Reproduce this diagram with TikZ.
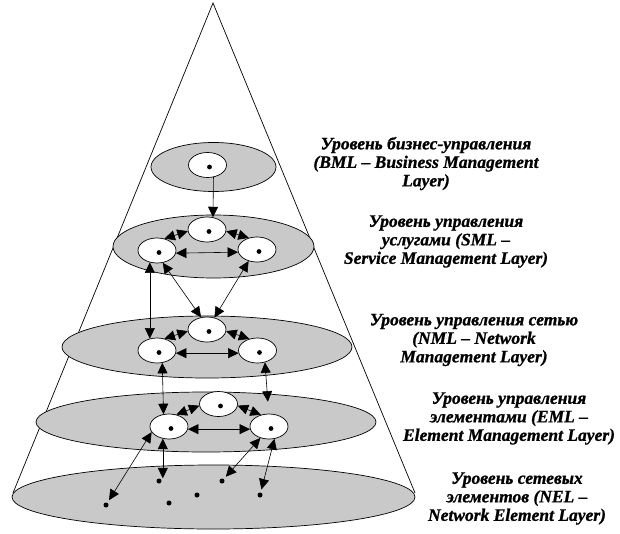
\documentclass[tikz,border=0pt]{standalone}
\usepackage{fontspec}
\setmainfont{Liberation Serif}[BoldItalicFeatures={FakeBold=1}]
\usetikzlibrary{shapes.geometric,arrows.meta}

\begin{document}
\begin{tikzpicture}[x=1pt,y=-1pt,
    layer/.style={ellipse, draw, fill=gray!42, line width=0.7pt, inner sep=0pt},
    elem/.style={ellipse, draw, fill=white, line width=0.7pt, inner sep=0pt,
        minimum width=38pt, minimum height=25pt,
        path picture={\fill[black] ([shift={(2pt,-2pt)}]path picture bounding box.center) circle (2.4pt);}},
    neldot/.style={circle, fill, inner sep=0pt, minimum size=5pt},
    dbl/.style={{Triangle[length=10.5pt,width=10pt]}-{Triangle[length=10.5pt,width=10pt]}, line width=0.6pt},
    one/.style={-{Triangle[length=10.5pt,width=10pt]}, line width=0.6pt},
    txt/.style={align=center, font=\fontsize{17.5}{18.5}\selectfont\bfseries\itshape}]
    \useasboundingbox (0,0) rectangle (620,534);

    % Конус
    \coordinate (apex) at (213,3);
    \draw[line width=0.7pt] (13,493) -- (apex) -- (415,493);

    % Слои (серые эллипсы)
    \foreach \name/\x/\y/\w/\h in {nel/213.5/497/403/64, eml/206/422/340/60, nml/207/347/290/62,
                                   sml/213.5/246.5/201/63, bml/213.5/167/125/49} {
        \node[layer, minimum width=\w pt, minimum height=\h pt] (\name) at (\x,\y) {};
    }

    % Элементы управления
    \node[elem] (bml-n) at (207.5,165) {};
    \foreach \l/\tx/\ty/\lx/\ly/\rx/\ry in {sml/207/229.5/157/250.5/257/249.5,
                                           nml/207/329.5/157/350.5/257.5/350.5,
                                           eml/218.5/404/169/426.5/269/426.5} {
        \node[elem] (\l-t) at (\tx,\ty) {};
        \node[elem] (\l-l) at (\lx,\ly) {};
        \node[elem] (\l-r) at (\rx,\ry) {};
        \draw[dbl] (\l-t.185) -- (\l-l.58);
        \draw[dbl] (\l-t.-5) -- (\l-r.125);
        \draw[dbl] (\l-l.-8) -- (\l-r.-172);
    }

    % Сетевые элементы
    \foreach \n/\x/\y in {1/106/505, 2/159/481, 3/169/503, 4/197/495, 5/222/481, 6/260/495} {
        \node[neldot] (d\n) at (\x,\y) {};
    }

    % Связи между уровнями
    \draw[one] (bml-n.-64) -- (sml-t.64);

    \draw[dbl] (sml-l.239) -- (nml-l.121);
    \draw[dbl] (sml-l.-65) -- (nml-t.116);
    \draw[dbl] (sml-r.234) -- (nml-t.58);

    \draw[dbl] (nml-l.-67) -- (eml-l.114);
    \draw[dbl] (nml-r.-58) -- ([yshift=12pt]eml-r.95);

    \draw[dbl, shorten >=3pt] (eml-l.198) -- (d1);
    \draw[dbl] (eml-l.243) -- (eml-l.243 |- d2.north);
    \draw[dbl, shorten >=3pt] (eml-r.233) -- (d5);
    \draw[dbl, shorten >=3pt] (eml-r.-66) -- (d6);

    % Подписи
    \node[txt] (bml-lbl) at (426,163.5) {Уровень бизнес-управления\\(BML -- Business Management\\Layer)};
    \node[txt] (sml-lbl) at (446,241.5) {Уровень управления\\услугами (SML --\\Service Management Layer)};
    \node[txt] (nml-lbl) at (474,340) {Уровень управления сетью\\(NML -- Network\\Management Layer)};
    \node[txt] (eml-lbl) at (509,418.5) {Уровень управления\\элементами (EML --\\Element Management Layer)};
    \node[txt] (nel-lbl) at (517,498.5) {Уровень сетевых\\элементов (NEL --\\Network Element Layer)};
\end{tikzpicture}
\end{document}
